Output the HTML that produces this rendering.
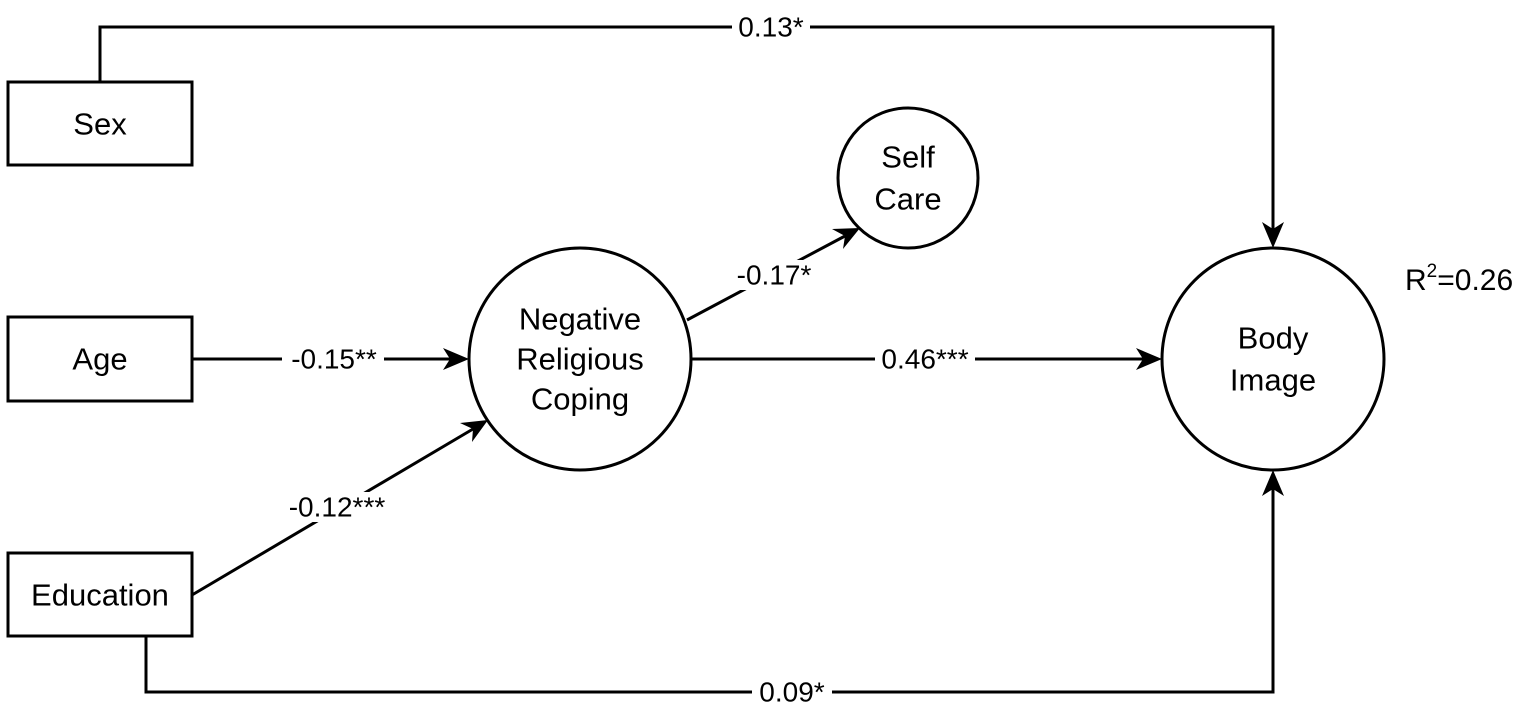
<!DOCTYPE html>
<html><head><meta charset="utf-8"><style>
html,body{margin:0;padding:0;background:#fff;}
svg{display:block;}
text{font-family:"Liberation Sans",Arial,sans-serif;fill:#000;}
</style></head><body>
<svg width="1535" height="710" viewBox="0 0 1535 710" xmlns="http://www.w3.org/2000/svg">
<defs>
<marker id="a" markerWidth="10" markerHeight="10" refX="9" refY="5" orient="auto" markerUnits="userSpaceOnUse" viewBox="0 0 10 10">
</marker>
</defs>
<g fill="none" stroke="#000" stroke-width="3">
<rect x="8" y="82" width="184" height="83"/>
<rect x="8" y="317" width="184" height="84"/>
<rect x="8" y="553" width="184" height="83"/>
<circle cx="580" cy="359" r="111"/>
<circle cx="1273" cy="359" r="111"/>
<circle cx="908" cy="178" r="70"/>
<path d="M100 82 V27 H1273 V230"/>
<path d="M146 636 V692 H1273 V488"/>
<path d="M192 359 H452"/>
<path d="M192 595 L473 429"/>
<path d="M687 320 L845 236"/>
<path d="M691 359 H1145"/>
</g>
<g fill="#000">
<polygon points="1273,248 1262,222 1273,229 1284,222"/>
<polygon points="1273,470 1262,496 1273,489 1284,496"/>
<polygon points="469,359 443,348 450,359 443,370"/>
<polygon points="1162,359 1136,348 1143,359 1136,370"/>
<polygon points="488,420 460,423 473,429 472,442"/>
<polygon points="860,228 832,229 845,236 843,249"/>
</g>
<g fill="#fff">
<rect x="732" y="12" width="78" height="30"/>
<rect x="752" y="677" width="80" height="30"/>
<rect x="282" y="344" width="102" height="30"/>
<rect x="282" y="492" width="110" height="30"/>
<rect x="733" y="260" width="82" height="30"/>
<rect x="875" y="344" width="100" height="30"/>
</g>
<g font-size="28" text-anchor="middle" dominant-baseline="central">
<text x="771" y="27">0.13*</text>
<text x="792" y="692">0.09*</text>
<text x="334" y="359">-0.15**</text>
<text x="337" y="507">-0.12***</text>
<text x="774" y="275">-0.17*</text>
<text x="925" y="359">0.46***</text>
</g>
<g font-size="31" text-anchor="middle" dominant-baseline="central">
<text x="100" y="124">Sex</text>
<text x="100" y="359">Age</text>
<text x="100" y="595">Education</text>
<text x="580" y="319">Negative</text>
<text x="580" y="359">Religious</text>
<text x="580" y="399">Coping</text>
<text x="1273" y="338">Body</text>
<text x="1273" y="380">Image</text>
<text x="908" y="157">Self</text>
<text x="908" y="199">Care</text>
</g>
<text x="1405" y="290" font-size="30">R<tspan font-size="19" dy="-13">2</tspan><tspan dy="13">=0.26</tspan></text>
</svg>
</body></html>
